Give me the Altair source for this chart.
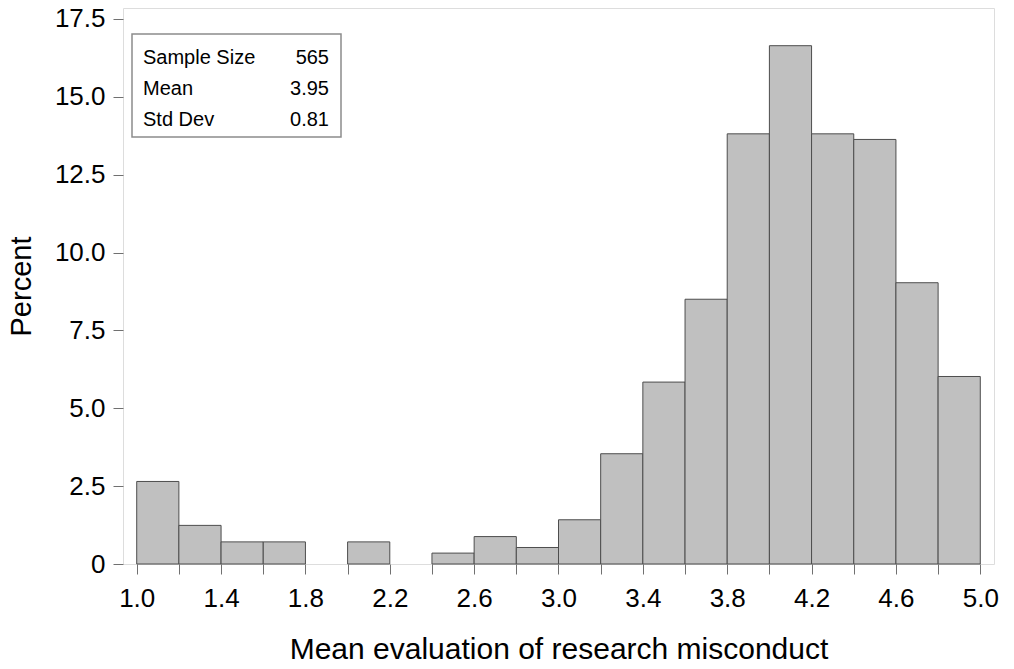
import altair as alt
import pandas as pd

# Histogram bins (width 0.2) and percent of respondents in each bin
bin_start = [1.0, 1.2, 1.4, 1.6, 1.8, 2.0, 2.2, 2.4, 2.6, 2.8,
             3.0, 3.2, 3.4, 3.6, 3.8, 4.0, 4.2, 4.4, 4.6, 4.8]
percent = [2.65, 1.24, 0.71, 0.71, 0.0, 0.71, 0.0, 0.35, 0.88, 0.53,
           1.42, 3.54, 5.84, 8.50, 13.81, 16.64, 13.81, 13.63, 9.03, 6.02]
bin_width = 0.2

x_ticks = [1.0, 1.2, 1.4, 1.6, 1.8, 2.0, 2.2, 2.4, 2.6, 2.8, 3.0,
           3.2, 3.4, 3.6, 3.8, 4.0, 4.2, 4.4, 4.6, 4.8, 5.0]
y_ticks = [0, 2.5, 5.0, 7.5, 10.0, 12.5, 15.0, 17.5]

stat_labels = ["Sample Size", "Mean", "Std Dev"]
stat_values = ["565", "3.95", "0.81"]

FONT = "Liberation Sans"

df = pd.DataFrame({
    "start": bin_start,
    "end": [round(s + bin_width, 1) for s in bin_start],
    "pct": percent,
})
df = df[df["pct"] > 0]

bars = alt.Chart(df).mark_rect(
    fill="#c0c0c0", stroke="#4d4d4d", strokeWidth=1
).encode(
    x=alt.X("start:Q",
            scale=alt.Scale(domain=[0.935, 5.065], nice=False, zero=False),
            axis=alt.Axis(
                values=x_ticks,
                title="Mean evaluation of research misconduct",
                labelExpr="round(datum.value*10) % 4 == 2 ? format(datum.value, '.1f') : ''",
                grid=False, domain=False,
                tickSize=10, tickColor="#707070", tickWidth=1,
                labelFontSize=26, labelFont=FONT, labelColor="#000000",
                labelPadding=11,
                titleFontSize=30, titleFont=FONT, titleFontWeight="normal",
                titleColor="#000000", titlePadding=23,
            )),
    x2="end:Q",
    y=alt.Y("pct:Q",
            scale=alt.Scale(domain=[0, 17.85], nice=False, zero=True),
            axis=alt.Axis(
                values=y_ticks,
                title="Percent",
                labelExpr="datum.value == 0 ? '0' : format(datum.value, '.1f')",
                grid=False, domain=False,
                tickSize=10, tickColor="#707070", tickWidth=1,
                labelFontSize=26, labelFont=FONT, labelColor="#000000",
                labelPadding=8,
                titleFontSize=29, titleFont=FONT, titleFontWeight="normal",
                titleColor="#000000", titlePadding=18,
            )),
    y2=alt.datum(0),
)

one = pd.DataFrame({"k": [0]})

box = alt.Chart(one).mark_rect(
    fill="white", stroke="#8c8c8c", strokeWidth=1.5
).encode(
    x=alt.value(9), x2=alt.value(218), y=alt.value(26), y2=alt.value(129)
)

row_y = [50, 81, 112]
texts = []
for lab, val, yy in zip(stat_labels, stat_values, row_y):
    texts.append(alt.Chart(one).mark_text(
        text=lab, align="left", baseline="middle",
        font=FONT, fontSize=20, color="#000000"
    ).encode(x=alt.value(20), y=alt.value(yy)))
    texts.append(alt.Chart(one).mark_text(
        text=val, align="right", baseline="middle",
        font=FONT, fontSize=20, color="#000000"
    ).encode(x=alt.value(206), y=alt.value(yy)))

chart = alt.layer(bars, box, *texts).properties(
    width=871, height=556,
    autosize=alt.AutoSizeParams(type="none"),
    padding={"left": 115, "top": 0, "right": 12, "bottom": 97},
).configure_view(
    stroke="#999999", strokeWidth=1.5
).configure(background="white")

chart.save("out.html", embed_options={"renderer": "svg", "actions": False})
